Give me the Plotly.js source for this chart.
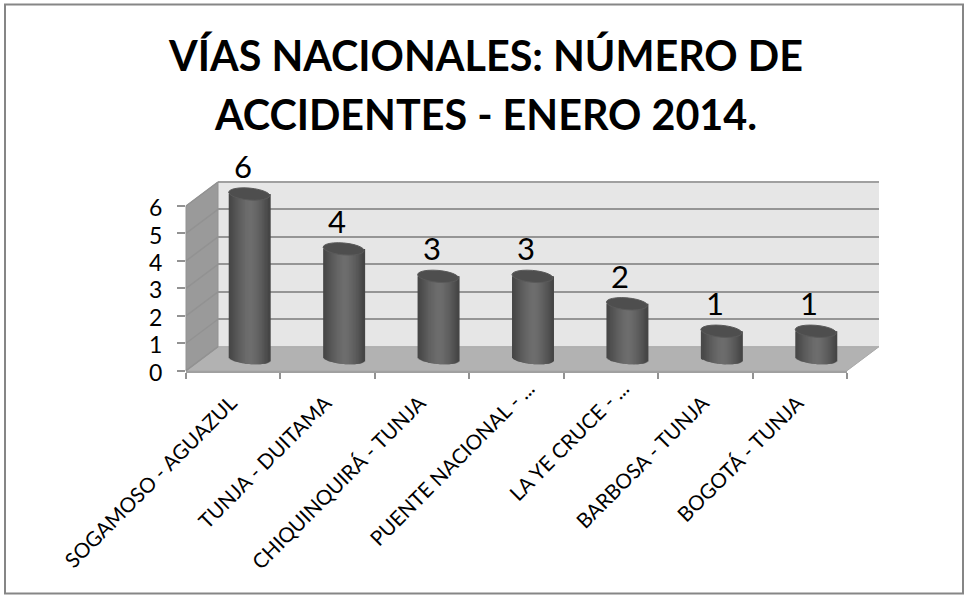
<!DOCTYPE html>
<html><head><meta charset="utf-8">
<script src="https://cdn.plot.ly/plotly-3.0.1.min.js"></script>
<style>html,body{margin:0;padding:0;background:#fff}#c{width:969px;height:597px}</style></head>
<body><div id="c"></div>
<script>
const categories = ["SOGAMOSO - AGUAZUL","TUNJA - DUITAMA","CHIQUINQUIRÁ - TUNJA","PUENTE NACIONAL - ...","LA YE CRUCE - ...","BARBOSA - TUNJA","BOGOTÁ - TUNJA"];
const accidents = [6,4,3,3,2,1,1];
const yTicks = [0,1,2,3,4,5,6];
const labelPadding = [5,5,5,1,1,5,5];
const cylinderShades = ["#464646","#484848","#4a4a4a","#4c4c4c","#4f4f4f","#515151","#545454","#565656","#595959","#5b5b5b","#5d5d5d","#5f5f5f","#616161","#636363","#656565","#666666","#686868","#6a6a6a","#6b6b6b","#6c6c6c","#6d6d6d","#6d6d6d","#6d6d6d","#6c6c6c","#6b6b6b","#6a6a6a","#686868","#666666","#646464","#626262","#606060","#5e5e5e","#5c5c5c","#595959","#575757","#545454","#515151","#4e4e4e","#4b4b4b","#484848","#454545"];
const titleLines = ["VÍAS NACIONALES: NÚMERO DE","ACCIDENTES - ENERO 2014."];

const W = 969, H = 597;
const fx = p => p / W, fy = p => 1 - p / H;
const unitPx = 27.45;
const depth = {x: 32, y: 24};
const front = {x0: 186, x1: 847, y0: 370.7};
const back  = {x0: front.x0 + depth.x, x1: front.x1 + depth.x, y0: front.y0 - depth.y};
const mid   = {x0: front.x0 + depth.x/2, x1: front.x1 + depth.x/2, y0: front.y0 - depth.y/2};
const yTop = 6;

const halfW = 0.217, ellB = 5.4 / unitPx, ellT = 1.7 / unitPx;
const n = cylinderShades.length, stripW = 2 * halfW / n;
const xIdx = categories.map((_, i) => i);
const axisLabels = categories.map((c, i) => c + "\u00a0".repeat(labelPadding[i]));

const traces = [];
traces.push({type:"scatter", mode:"none", x:xIdx, y:accidents, xaxis:"x", yaxis:"y", hoverinfo:"skip", showlegend:false});
traces.push({type:"scatter", mode:"none", x:axisLabels, y:accidents, xaxis:"x2", yaxis:"y2", hoverinfo:"skip", showlegend:false});
cylinderShades.forEach((c, k) => {
  const u = -1 + (2 * k + 1) / n;
  const low = -ellT * u - ellB * Math.sqrt(Math.max(0, 1 - u * u));
  const w = Math.min(stripW * 2, 2 * (1 - Math.abs(u)) * halfW + stripW);
  traces.push({type:"bar", x:xIdx, y:accidents.map(v => v - low), base:accidents.map(() => low),
    offset:u * halfW - stripW / 2, width:w, marker:{color:c, line:{width:0}},
    xaxis:"x3", yaxis:"y3", hoverinfo:"skip", showlegend:false});
});

const tickGrey = "#929292";
const poly = pts => "M" + pts.map(p => p[0] + "," + p[1]).join(" L") + " Z";
const P = (x, y) => [fx(x), fy(y)];
const shapes = [];
const paperShape = (path, fill, stroke, w) => ({type:"path", xref:"paper", yref:"paper", layer:"below", path,
  fillcolor:fill, line:{color:stroke || fill, width:w === undefined ? 1 : w}});
shapes.push(paperShape(poly([P(back.x0,back.y0-yTop*unitPx),P(back.x1,back.y0-yTop*unitPx),P(back.x1,back.y0),P(back.x0,back.y0)]),"#e6e6e6","#e6e6e6",0));
shapes.push({type:"line",xref:"paper",yref:"paper",layer:"below",x0:fx(back.x0),x1:fx(back.x1),y0:fy(back.y0-yTop*unitPx),y1:fy(back.y0-yTop*unitPx),line:{color:"#a0a0a0",width:2}});
shapes.push(paperShape(poly([P(front.x0,front.y0),P(front.x1,front.y0),P(back.x1,back.y0),P(back.x0,back.y0)]),"#b2b2b2","#a8a8a8",1));
shapes.push(paperShape(poly([P(front.x0,front.y0),P(front.x0,front.y0-yTop*unitPx),P(back.x0,back.y0-yTop*unitPx),P(back.x0,back.y0)]),"#9a9a9a","#929292",1));
yTicks.forEach(t => shapes.push({type:"line",xref:"paper",yref:"paper",layer:"below",
  x0:fx(front.x0),y0:fy(front.y0-t*unitPx),x1:fx(back.x0),y1:fy(back.y0-t*unitPx),line:{color:"#929292",width:1.5}}));
shapes.push({type:"rect",xref:"paper",yref:"paper",layer:"below",x0:fx(5),x1:fx(963),y0:fy(593.5),y1:fy(4.5),line:{color:"#868686",width:2},fillcolor:"rgba(0,0,0,0)"});
const angles = [0,15,30,45,60,75,90,105,120,135,150,165,180,195,210,225,240,255,270,285,300,315,330,345];
accidents.forEach((v, i) => {
  const pts = angles.map(a => { const r = a * Math.PI / 180, cu = Math.cos(r);
    return [i + halfW * cu, v - ellT * cu + (ellB + 0.02) * Math.sin(r)]; });
  shapes.push({type:"path", xref:"x3", yref:"y3", layer:"above", path:poly(pts), fillcolor:"#4e4e4e", line:{color:"#5a5a5a", width:1}});
});

const annotations = accidents.map((v, i) => ({xref:"x3", yref:"y3", x:i, y:v, xshift:-6.5, yshift:28, text:String(v), showarrow:false,
  xanchor:"center", yanchor:"middle", font:{family:"Lato", size:31, color:"#000"}}));

const titleText = titleLines.map(t => '<span style="font-size:41.3px">' + t + '</span>').join("<br>");
const layout = {
  width:W, height:H, margin:{l:0,r:0,t:0,b:0}, paper_bgcolor:"#fff", plot_bgcolor:"rgba(0,0,0,0)",
  barmode:"overlay", showlegend:false, hovermode:false,
  title:{text:titleText, x:fx(486), xanchor:"center", y:1-70.5/H, yanchor:"top", yref:"paper",
    font:{family:"Lato", size:45.5, weight:700, color:"#000"}},
  xaxis:{domain:[fx(back.x0),fx(back.x1)], range:[-0.5,6.5], type:"linear", visible:false, fixedrange:true},
  yaxis:{domain:[fy(back.y0),fy(back.y0-yTop*unitPx)], range:[0,yTop], tickvals:yTicks, showgrid:true, gridcolor:"#959595", gridwidth:2,
    zeroline:false, showticklabels:false, ticks:"", showline:false, fixedrange:true},
  xaxis2:{domain:[fx(front.x0),fx(front.x1)], type:"category", categoryorder:"array", categoryarray:axisLabels, range:[-0.5,6.5],
    tickson:"boundaries", ticks:"outside", ticklen:6, tickwidth:2, tickcolor:tickGrey, showline:true, linecolor:"#a0a0a0", linewidth:2,
    tickangle:-45, showgrid:false, zeroline:false, anchor:"y2", automargin:false, fixedrange:true, ticklabelstandoff:-8, ticklabelshift:16,
    tickfont:{family:"Lato", size:20.6, color:"#000"}},
  yaxis2:{domain:[fy(front.y0),fy(front.y0-yTop*unitPx)], range:[0,yTop], tickvals:yTicks, ticks:"outside", ticklen:8, tickwidth:2, tickcolor:tickGrey,
    showgrid:false, zeroline:false, showline:false, anchor:"x2", automargin:false, fixedrange:true, ticklabelstandoff:10, ticklabelshift:2,
    tickfont:{family:"Lato", size:23, color:"#000"}},
  xaxis3:{domain:[fx(mid.x0),fx(mid.x1)], range:[-0.5,6.5], type:"linear", visible:false, fixedrange:true, anchor:"y3"},
  yaxis3:{domain:[fy(mid.y0+unitPx),fy(mid.y0-7.5*unitPx)], range:[-1,7.5], visible:false, fixedrange:true, anchor:"x3"},
  shapes, annotations
};
Plotly.newPlot("c", traces, layout, {displayModeBar:false, responsive:false});
</script></body></html>
